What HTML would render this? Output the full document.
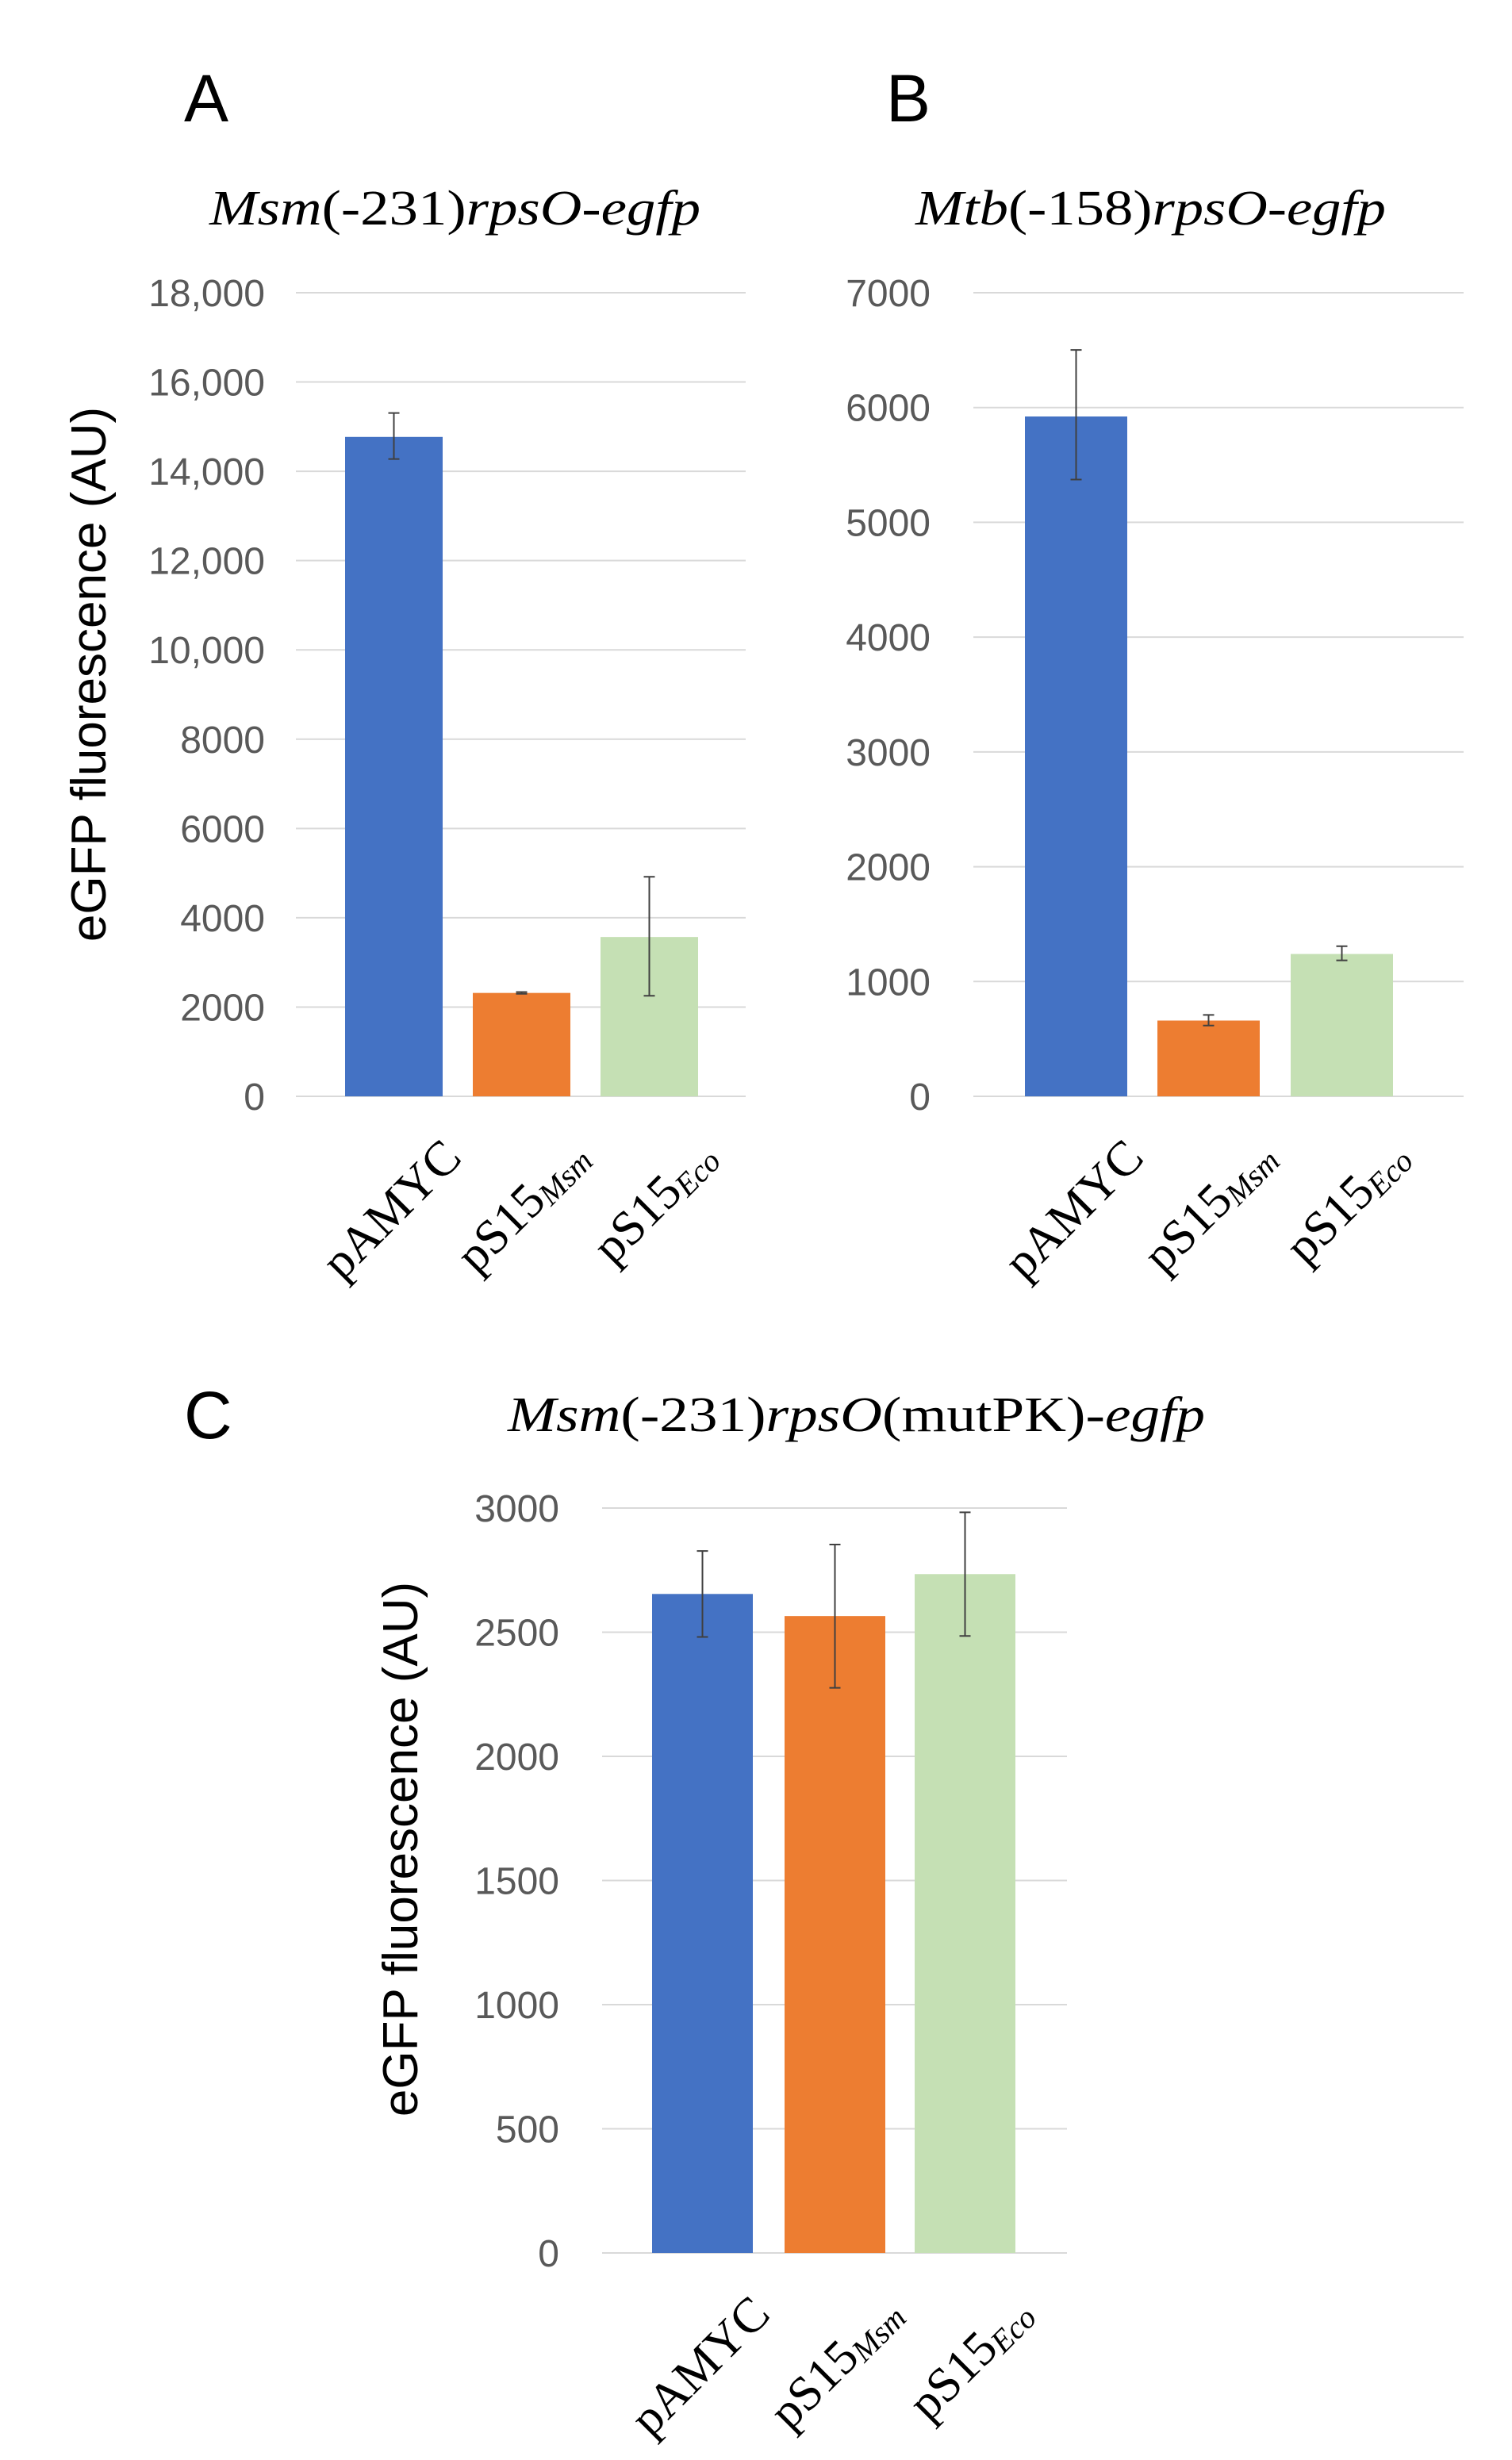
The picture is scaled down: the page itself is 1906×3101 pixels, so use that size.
<!DOCTYPE html>
<html><head><meta charset="utf-8"><style>
html,body{margin:0;padding:0;background:#fff;}
svg{display:block;}
</style></head><body>
<svg id="fig" width="1906" height="3101" xmlns="http://www.w3.org/2000/svg"></svg>
<script>
const categories = ["pAMYC", "pS15", "pS15"];
const subs = ["", "Msm", "Eco"];
const colors = ["#4472C4", "#ED7D31", "#C5E0B4"];
const valuesA = [14770, 2316, 3569];
const errHiA = [15305, 2336, 4917];
const errLoA = [14275, 2296, 2252];
const ticksA = [0, 2000, 4000, 6000, 8000, 10000, 12000, 14000, 16000, 18000];
const tickLabelsA = ["0", "2000", "4000", "6000", "8000", "10,000", "12,000", "14,000", "16,000", "18,000"];
const valuesB = [5922, 660, 1240];
const errHiB = [6502, 709, 1308];
const errLoB = [5373, 617, 1184];
const ticksB = [0, 1000, 2000, 3000, 4000, 5000, 6000, 7000];
const tickLabelsB = ["0", "1000", "2000", "3000", "4000", "5000", "6000", "7000"];
const valuesC = [2654, 2565, 2734];
const errHiC = [2827, 2853, 2983];
const errLoC = [2481, 2276, 2485];
const ticksC = [0, 500, 1000, 1500, 2000, 2500, 3000];
const tickLabelsC = ["0", "500", "1000", "1500", "2000", "2500", "3000"];

const NS = "http://www.w3.org/2000/svg";
const svg = document.getElementById("fig");
function mk(tag, attrs, parent) {
  const e = document.createElementNS(NS, tag);
  for (const k in attrs) e.setAttribute(k, attrs[k]);
  (parent || svg).appendChild(e);
  return e;
}

function panel(cfg) {
  const g = mk("g", {});
  
  
  const max = cfg.ticks[cfg.ticks.length - 1];
  const y = v => cfg.y0 - (v / max) * (cfg.y0 - cfg.y1);
  cfg.ticks.forEach((t, i) => {
    const ln = mk("line", {x1: cfg.gx0, x2: cfg.gx1, y1: y(t), y2: y(t), stroke: "#D9D9D9", "stroke-width": 2}, g);
    
    
    const tx = mk("text", {x: cfg.tickX, y: y(t) + 17, "text-anchor": "end", "font-family": "Liberation Sans, sans-serif", "font-size": 48, fill: "#595959"}, g);
    tx.textContent = cfg.labels[i];
    
    
  });
  cfg.values.forEach((v, i) => {
    const bx = cfg.bx[i];
    const r = mk("rect", {x: bx, y: y(v), width: cfg.bw, height: cfg.y0 - y(v), fill: colors[i]}, g);
    
    
    const cx = bx + cfg.bw / 2;
    const eb = mk("path", {d: `M${cx},${y(cfg.hi[i])}V${y(cfg.lo[i])}M${cx-7},${y(cfg.hi[i])}H${cx+7}M${cx-7},${y(cfg.lo[i])}H${cx+7}`, stroke: "#404040", "stroke-width": 2, fill: "none"}, g);
    
    
    const ax = cx + 88, ay = cfg.y0 + 80;
    const lt = mk("text", {x: ax, y: ay, "text-anchor": "end", transform: `rotate(-45 ${ax} ${ay})`, "font-family": "Liberation Serif, serif", "font-size": 62, fill: "#000"}, g);
    
    
    lt.appendChild(document.createTextNode(categories[i]));
    if (subs[i]) {
      const ts = mk("tspan", {"font-size": 40, "font-style": "italic", dy: 6}, lt);
      ts.textContent = subs[i];
    }
  });
}

panel({name: "chart-a", values: valuesA, hi: errHiA, lo: errLoA, ticks: ticksA, labels: tickLabelsA,
  y0: 1382, y1: 369, gx0: 373, gx1: 940, tickX: 334, bx: [435, 596, 757], bw: 123});
panel({name: "chart-b", values: valuesB, hi: errHiB, lo: errLoB, ticks: ticksB, labels: tickLabelsB,
  y0: 1382, y1: 369, gx0: 1227, gx1: 1845, tickX: 1173, bx: [1292, 1459, 1627], bw: 129});
panel({name: "chart-c", values: valuesC, hi: errHiC, lo: errLoC, ticks: ticksC, labels: tickLabelsC,
  y0: 2840, y1: 1901, gx0: 759, gx1: 1345, tickX: 705, bx: [822, 989, 1153], bw: 127});
</script>
<svg style="position:absolute;left:0;top:0" width="1906" height="3101" xmlns="http://www.w3.org/2000/svg">
  <g font-family="Liberation Sans, sans-serif" font-size="84" fill="#000">
    <text x="232" y="153">A</text>
    <text x="1117" y="153">B</text>
    <text x="232" y="1813">C</text>
  </g>
  <g font-family="Liberation Serif, serif" font-size="62" fill="#000">
    <text x="264" y="283" textLength="619" lengthAdjust="spacingAndGlyphs"><tspan font-style="italic">Msm</tspan>(-231)<tspan font-style="italic">rpsO-egfp</tspan></text>
    <text x="1154" y="283" textLength="593" lengthAdjust="spacingAndGlyphs"><tspan font-style="italic">Mtb</tspan>(-158)<tspan font-style="italic">rpsO-egfp</tspan></text>
    <text x="640" y="1804" textLength="879" lengthAdjust="spacingAndGlyphs"><tspan font-style="italic">Msm</tspan>(-231)<tspan font-style="italic">rpsO</tspan>(mutPK)-<tspan font-style="italic">egfp</tspan></text>
  </g>
  <g font-family="Liberation Sans, sans-serif" font-size="62" fill="#000">
    <text x="0" y="0" text-anchor="middle" transform="translate(133 850) rotate(-90)">eGFP fluorescence (AU)</text>
    <text x="0" y="0" text-anchor="middle" transform="translate(526 2331) rotate(-90)">eGFP fluorescence (AU)</text>
  </g>
</svg>
</body></html>
